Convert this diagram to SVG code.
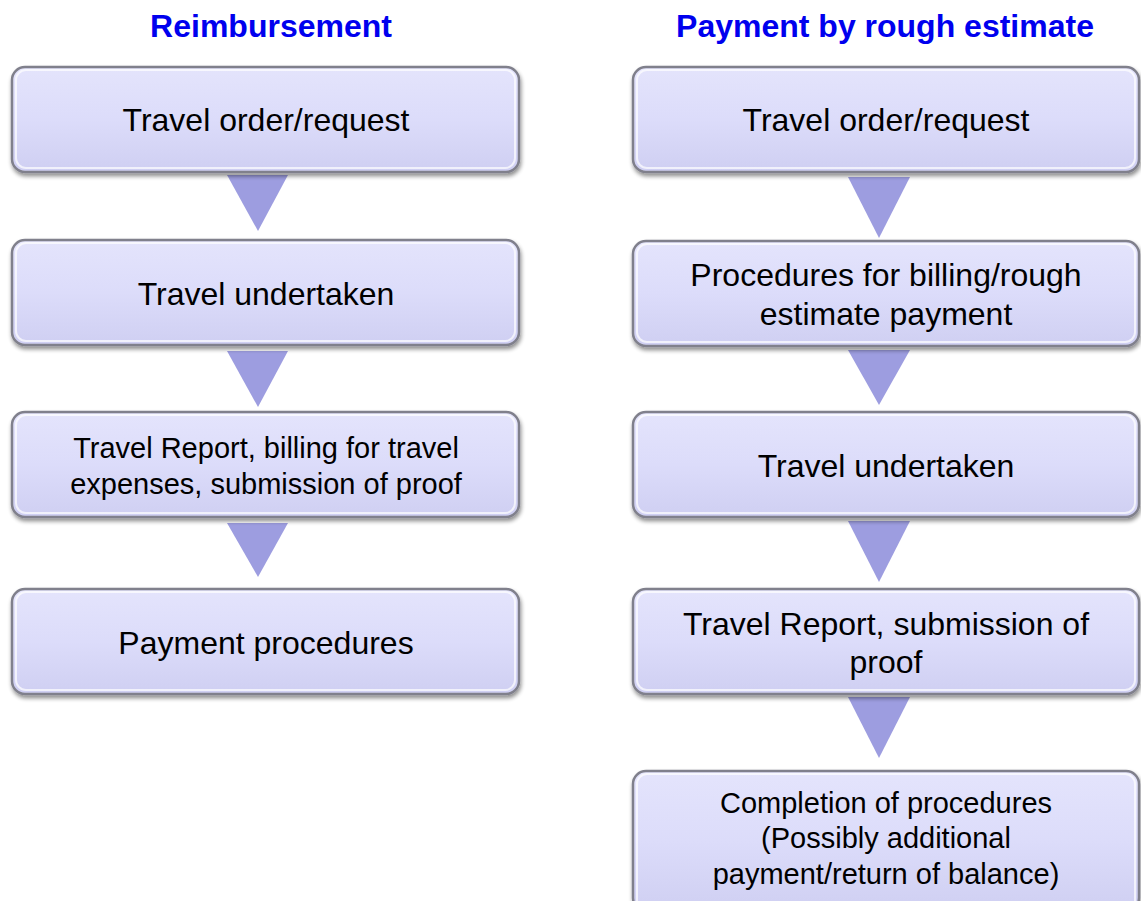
<svg xmlns="http://www.w3.org/2000/svg" width="1141" height="901" viewBox="0 0 1141 901">
<defs>
<linearGradient id="bg" x1="0" y1="0" x2="0" y2="1">
<stop offset="0" stop-color="#e4e4fc"/>
<stop offset="0.5" stop-color="#dcdcfa"/>
<stop offset="1" stop-color="#cfcff2"/>
</linearGradient>
<filter id="sh" x="-5%" y="-10%" width="110%" height="125%">
<feGaussianBlur in="SourceAlpha" stdDeviation="2"/>
<feOffset dx="1" dy="3" result="b"/>
<feComponentTransfer><feFuncA type="linear" slope="0.45"/></feComponentTransfer>
<feMerge><feMergeNode/><feMergeNode in="SourceGraphic"/></feMerge>
</filter>
</defs>
<style>
.box{fill:url(#bg);stroke:#80808c;stroke-width:2.5;filter:url(#sh)}
.hl{fill:none;stroke:#ffffff;stroke-opacity:0.7;stroke-width:2}
.t{font-family:"Liberation Sans",Arial,sans-serif;font-size:32px;fill:#000;text-anchor:middle}
.s{font-size:29px}
.h{font-family:"Liberation Sans",Arial,sans-serif;font-size:32px;font-weight:bold;fill:#0000ee;text-anchor:middle}
.arr{fill:#9d9de0}
</style>
<rect width="1141" height="901" fill="#fff"/>
<text class="h" x="271" y="37">Reimbursement</text>
<text class="h" x="885" y="37">Payment by rough estimate</text>
<g id="connectors">
<polygon class="arr" points="227,175 288,175 258,231"/>
<polygon class="arr" points="227,351 288,351 258,407"/>
<polygon class="arr" points="227,523 288,523 258,577"/>
<polygon class="arr" points="848,177 910,177 879,238"/>
<polygon class="arr" points="848,350 910,350 879,405"/>
<polygon class="arr" points="848,521 910,521 879,582"/>
<polygon class="arr" points="848,697 910,697 879,758"/>
</g>
<g id="l1"><rect class="box" x="12" y="67" width="507" height="105" rx="13"/><rect class="hl" x="16" y="70" width="499" height="98" rx="10"/><text class="t" x="266" y="131">Travel order/request</text></g>
<g id="l2"><rect class="box" x="12" y="240" width="507" height="105" rx="13"/><rect class="hl" x="16" y="243" width="499" height="98" rx="10"/><text class="t" x="266" y="305">Travel undertaken</text></g>
<g id="l3"><rect class="box" x="12" y="412" width="507" height="105" rx="13"/><rect class="hl" x="16" y="415" width="499" height="98" rx="10"/><text class="t s" x="266" y="458">Travel Report, billing for travel</text><text class="t s" x="266" y="494">expenses, submission of proof</text></g>
<g id="l4"><rect class="box" x="12" y="589" width="507" height="105" rx="13"/><rect class="hl" x="16" y="592" width="499" height="98" rx="10"/><text class="t" x="266" y="654">Payment procedures</text></g>
<g id="r1"><rect class="box" x="633" y="67" width="506" height="105" rx="13"/><rect class="hl" x="637" y="70" width="498" height="98" rx="10"/><text class="t" x="886" y="131">Travel order/request</text></g>
<g id="r2"><rect class="box" x="633" y="241" width="506" height="105" rx="13"/><rect class="hl" x="637" y="244" width="498" height="98" rx="10"/><text class="t" x="886" y="286">Procedures for billing/rough</text><text class="t" x="886" y="325">estimate payment</text></g>
<g id="r3"><rect class="box" x="633" y="412" width="506" height="105" rx="13"/><rect class="hl" x="637" y="415" width="498" height="98" rx="10"/><text class="t" x="886" y="477">Travel undertaken</text></g>
<g id="r4"><rect class="box" x="633" y="589" width="506" height="105" rx="13"/><rect class="hl" x="637" y="592" width="498" height="98" rx="10"/><text class="t" x="886" y="635">Travel Report, submission of</text><text class="t" x="886" y="673">proof</text></g>
<g id="r5"><rect class="box" x="633" y="771" width="506" height="140" rx="13"/><rect class="hl" x="637" y="774" width="498" height="140" rx="10"/><text class="t s" x="886" y="813">Completion of procedures</text><text class="t s" x="886" y="848">(Possibly additional</text><text class="t s" x="886" y="884">payment/return of balance)</text></g>
</svg>
